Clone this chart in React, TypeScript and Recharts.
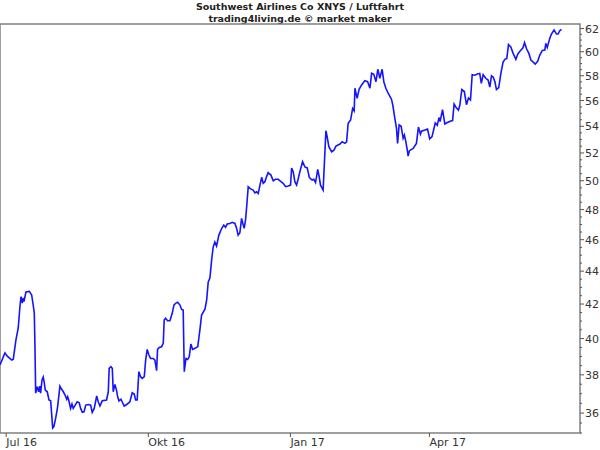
import React from "react";
import { LineChart, Line, XAxis, YAxis, ReferenceArea } from "recharts";

const titleLines = ["Southwest Airlines Co XNYS / Luftfahrt", "trading4living.de © market maker"];

// days since 2016-07-01
const days = [
  -4.0, -0.8, 0.7, 3.6, 4.6, 6.3, 7.8, 8.9, 9.6, 10.4, 11.1, 11.5, 12.8, 15.0, 16.5, 17.5, 18.2, 18.6, 19.1, 20.1,
  21.0, 21.7, 22.3, 23.2, 24.0, 24.7, 25.3, 26.6, 27.7, 28.8, 29.4, 30.1, 30.9, 32.2, 33.3, 34.8, 35.9, 37.0, 38.1, 39.2,
  39.8, 40.6, 41.7, 42.6, 43.4, 44.7, 46.0, 47.3, 48.2, 49.3, 50.4, 51.5, 53.1, 54.7, 55.7, 57.0, 58.6, 59.6,
  60.7, 62.2, 65.0, 66.1, 66.7, 67.8, 68.7, 69.3, 70.4, 71.3, 72.2, 73.0, 74.3, 75.1, 76.4, 78.0, 80.1, 81.6, 82.9, 83.8,
  84.8, 85.9, 87.0, 88.1, 89.4, 90.3, 91.3, 92.4, 93.5, 95.2, 96.3, 97.4, 98.0, 99.1, 100.6, 101.7, 102.3, 103.2, 104.5, 106.0,
  107.5, 108.6, 109.7, 111.0, 112.5, 113.6, 114.6, 115.3, 116.4, 117.5, 118.5, 119.6, 120.7, 122.2, 124.0, 125.4,
  126.5, 128.7, 129.8, 130.8, 131.9, 133.0, 134.0, 135.1, 136.2, 137.7, 139.5, 140.9, 142.0, 143.1, 144.8, 146.3, 148.1, 149.2, 150.2, 151.3,
  152.4, 153.5, 154.1, 155.0, 155.7, 156.7, 157.8, 158.9, 159.9, 161.0, 162.1, 163.2, 164.3, 165.4, 166.4, 167.5, 168.6, 169.6, 171.4, 172.9,
  174.4, 176.1, 177.9, 179.3, 180.9, 182.6, 184.1, 184.8, 185.8, 186.9, 188.0, 189.0, 190.1,
  191.9, 193.4, 194.9, 196.3, 198.1, 199.2, 200.3, 201.7, 202.6, 203.5, 205.2, 207.0, 207.8, 208.9, 210.7, 212.2, 213.5, 216.1, 217.5, 219.3,
  220.4, 221.4, 223.0, 224.3, 225.3, 225.8, 227.2, 228.5, 230.1, 232.2, 234.0, 235.5, 236.6, 238.0, 239.4, 240.6, 241.9, 243.4, 244.5, 245.8,
  247.3, 249.5, 250.5, 251.6, 252.7, 253.4, 254.4, 255.7, 257.0, 257.8, 258.8, 259.9, 260.2, 261.1, 263.5, 265.6, 266.9, 268.2, 268.9, 271.1,
  272.8, 274.2, 275.7, 277.8, 279.1, 280.2, 280.9, 282.5, 284.0, 285.6, 287.9, 289.0, 290.0, 291.3, 292.8, 293.7, 295.0, 296.6, 298.0, 299.3,
  300.6, 301.7, 303.4, 305.0, 306.6, 307.6, 308.8, 310.5, 312.0, 313.1, 314.2, 315.3, 316.4, 317.4, 318.9, 320.3, 321.7, 323.0, 324.1, 325.2,
  326.7, 328.2, 330.0, 331.2, 333.0, 334.5, 335.6, 336.9, 338.4, 339.7, 341.2, 342.5, 344.1, 345.5, 347.1, 348.7, 349.4, 350.3, 351.9, 353.0,
  354.7, 356.3, 357.3, 358.4, 359.5,
];

const prices = [
  38.53, 39.2, 39.02, 38.8, 38.85, 39.91, 40.6, 41.84, 42.44, 42.06, 42.36, 42.14, 42.72, 42.76, 42.54, 41.94, 41.47, 39.74, 37.03, 37.37,
  37.1, 37.4, 37.03, 37.72, 37.88, 37.56, 37.19, 37.1, 36.67, 36.63, 36.0, 35.25, 35.32, 35.81, 36.32, 37.4, 37.23, 37.1, 36.93, 36.71,
  36.84, 36.63, 36.24, 36.46, 36.24, 36.41, 36.58, 36.53, 36.24, 36.04, 36.06, 36.41, 36.44, 36.41, 36.04, 36.24, 36.88, 36.58,
  36.36, 36.63, 36.67, 37.1, 38.35, 38.44, 38.35, 37.1, 37.49, 37.23, 36.84, 36.63, 36.71, 36.58, 36.36, 36.44, 36.58, 37.05, 36.98, 36.67,
  36.67, 38.17, 37.9, 37.81, 37.9, 38.8, 39.39, 39.08, 38.89, 38.89, 38.8, 38.22, 39.39, 39.5, 39.54, 39.73, 41.06, 41.16, 41.02, 41.02,
  41.45, 41.94, 42.04, 42.1, 41.94, 41.68, 41.64, 38.17, 38.89, 38.84, 38.98, 39.69, 39.39, 39.45, 39.54, 40.48,
  41.35, 41.7, 42.24, 43.33, 43.57, 44.69, 45.52, 45.85, 45.59, 46.3, 46.73, 46.96, 46.81, 47.03, 47.07, 47.14, 47.07, 46.74, 46.3, 46.45,
  47.41, 46.96, 46.74, 47.34, 48.19, 49.57, 49.46, 49.39, 49.34, 49.15, 49.22, 49.11, 49.69, 50.24, 49.82, 49.93, 50.29, 50.57, 50.4, 50.0,
  50.1, 50.1, 49.93, 49.82, 49.58, 49.63, 49.69, 50.91, 50.64, 49.93, 49.69, 50.1, 50.62,
  51.37, 50.98, 50.91, 50.22, 50.05, 50.1, 49.87, 50.8, 50.3, 49.68, 49.34, 53.66, 53.21, 52.46, 52.09, 52.21, 52.51, 52.66, 52.83, 52.71,
  52.83, 54.23, 54.48, 55.38, 55.19, 56.98, 56.17, 56.9, 57.25, 57.59, 57.51, 56.98, 58.2, 58.12, 57.51, 58.53, 57.79, 58.53, 57.51, 56.98,
  56.58, 56.09, 55.51, 54.63, 53.84, 52.71, 54.1, 54.0, 53.09, 53.33, 52.81, 52.06, 51.77, 52.17, 52.33, 52.71, 53.94, 53.4, 53.63, 53.71,
  53.79, 53.04, 53.21, 54.25, 54.07, 54.67, 54.36, 55.29, 54.17, 54.29, 54.4, 54.44, 55.72, 55.45, 55.25, 55.64, 56.88, 56.72, 55.67, 56.2,
  56.04, 58.08, 58.04, 58.14, 58.18, 57.37, 58.08, 57.79, 57.65, 57.08, 57.98, 57.89, 57.51, 56.88, 57.04, 58.22, 59.13, 59.38, 59.42, 60.61,
  60.4, 59.86, 59.36, 59.8, 60.1, 60.31, 60.77, 60.25, 59.86, 59.3, 59.13, 58.97, 59.2, 59.72, 60.11, 60.14, 60.71, 60.37, 61.13, 61.52,
  61.87, 61.52, 61.52, 61.81, 61.93,
];

const xTickDays = [0, 92, 184, 274];
const xTickLabels = ["Jul 16", "Okt 16", "Jan 17", "Apr 17"];
const yMajorTicks = [36, 38, 40, 42, 44, 46, 48, 50, 52, 54, 56, 58, 60, 62];
const yMinorStep = 0.5;
const xDomain: [number, number] = [-4, 371.5];
const yDomain: [number, number] = [35, 62.4];

const yAllTicks: number[] = [];
for (let v = 35; v <= 62.001; v += yMinorStep) yAllTicks.push(Math.round(v * 10) / 10);

const n = Math.min(days.length, prices.length);
const data = days.slice(0, n).map((d, i) => ({ day: d, price: prices[i] }));

const FONT = "'DejaVu Sans', Verdana, sans-serif";
const TICK_COLOR = "#555";
const TEXT_COLOR = "#333";

const XTick = (props: any) => {
  const { x, y, payload } = props;
  const idx = xTickDays.indexOf(payload.value);
  return (
    <g>
      <line x1={x} x2={x} y1={y} y2={y + 4} stroke={TICK_COLOR} strokeWidth={1} />
      <text x={x} y={y + 12.5} textAnchor="start" fontFamily={FONT} fontSize={11} fill={TEXT_COLOR}>
        {idx >= 0 ? xTickLabels[idx] : ""}
      </text>
    </g>
  );
};

const YTick = (props: any) => {
  const { x, y, payload } = props;
  const v = payload.value;
  const major = yMajorTicks.includes(v);
  return (
    <g>
      <line x1={x} x2={x + (major ? 4 : 2)} y1={y} y2={y} stroke={TICK_COLOR} strokeWidth={1} />
      {major && (
        <text x={x + 5} y={y + 4} textAnchor="start" fontFamily={FONT} fontSize={11} fill={TEXT_COLOR}>
          {v}
        </text>
      )}
    </g>
  );
};

export default function App() {
  return (
    <div style={{ position: "relative", width: 600, height: 450, background: "#fff" }}>
      <style>{"body{margin:0;background:#fff}"}</style>
      <div
        style={{
          position: "absolute",
          top: 1,
          left: 0,
          width: 600,
          textAlign: "center",
          fontFamily: FONT,
          fontWeight: "bold",
          fontSize: 9.5,
          lineHeight: "11.5px",
          color: "#222",
        }}
      >
        {titleLines.map((t) => (
          <div key={t}>{t}</div>
        ))}
      </div>
      <LineChart width={600} height={450} data={data} margin={{ top: 24, right: 0, bottom: 0, left: 0 }}>
        <XAxis
          dataKey="day"
          type="number"
          domain={xDomain}
          allowDataOverflow
          ticks={xTickDays}
          interval={0}
          tickSize={0}
          tickMargin={0}
          axisLine={false}
          tickLine={false}
          height={17}
          tick={<XTick />}
        />
        <YAxis
          orientation="right"
          scale="log"
          domain={yDomain}
          allowDataOverflow
          ticks={yAllTicks}
          interval={0}
          tickSize={0}
          tickMargin={0}
          axisLine={false}
          tickLine={false}
          width={20}
          tick={<YTick />}
        />
        <ReferenceArea
          x1={xDomain[0]}
          x2={xDomain[1]}
          y1={yDomain[0]}
          y2={yDomain[1]}
          fill="none"
          stroke="#808080"
          strokeWidth={1.5}
          ifOverflow="visible"
        />
        <Line
          type="linear"
          dataKey="price"
          stroke="#1414ff"
          strokeWidth={1.6}
          dot={false}
          isAnimationActive={false}
        />
      </LineChart>
    </div>
  );
}
